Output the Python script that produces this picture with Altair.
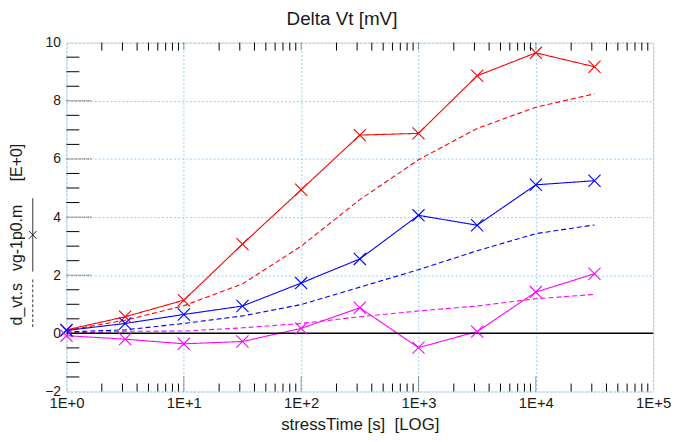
import altair as alt
import pandas as pd

# ---- data ----
stress_time = [1, 3.162, 10, 31.62, 100, 316.2, 1000, 3162, 10000, 31623]
red_meas = [0.12, 0.57, 1.14, 3.07, 4.94, 6.82, 6.88, 8.86, 9.65, 9.17]
red_model = [0.10, 0.45, 0.95, 1.70, 3.00, 4.60, 5.97, 7.05, 7.78, 8.24]
blue_meas = [0.10, 0.34, 0.65, 0.94, 1.73, 2.56, 4.06, 3.72, 5.11, 5.25]
blue_model = [0.05, 0.12, 0.34, 0.60, 0.99, 1.59, 2.19, 2.84, 3.43, 3.73]
mag_meas = [-0.08, -0.20, -0.36, -0.28, 0.17, 0.88, -0.49, 0.06, 1.42, 2.05]
mag_model = [0.00, 0.07, 0.08, 0.19, 0.34, 0.57, 0.77, 0.94, 1.19, 1.34]

x_tick_values = [1, 10, 100, 1000, 10000, 100000]
y_tick_values = [-2, 0, 2, 4, 6, 8, 10]

series_names = ["red", "blue", "magenta"]
series_colors = ["#ff0000", "#0000ff", "#ff00ff"]

chart_title = "Delta Vt [mV]"
x_title = "stressTime [s]\u00a0\u00a0[LOG]"
y_title_parts = ["d_vt.s", "vg-1p0.m", "[E+0]"]

rows = []
for name, meas, model in [("red", red_meas, red_model),
                          ("blue", blue_meas, blue_model),
                          ("magenta", mag_meas, mag_model)]:
    for t, v in zip(stress_time, meas):
        rows.append({"t": t, "v": v, "series": name, "kind": "meas"})
    for t, v in zip(stress_time, model):
        rows.append({"t": t, "v": v, "series": name, "kind": "model"})
df = pd.DataFrame(rows)

# minor / major tick positions (decorations)
x_minor = [m * 10 ** d for d in range(5) for m in range(2, 10)]
x_major = [10, 100, 1000, 10000]
y_minor = [i * 0.5 for i in range(-4, 21) if i % 4 != 0]
y_major = [2, 4, 6, 8]

W, H = 592, 352
FONT = "Liberation Sans"
XMARK = "M-1,-1L1,1M-1,1L1,-1"
TXT = "#1a1a1a"

xscale = alt.Scale(type="log", domain=[1, 100000], nice=False)
yscale = alt.Scale(domain=[-2, 10], nice=False, zero=False)

grid_color = "#8fd0f5"

base = alt.Chart(df)

lines = base.mark_line(strokeWidth=1.1, clip=True).encode(
    x=alt.X("t:Q", scale=xscale,
            axis=alt.Axis(values=x_tick_values, title=x_title,
                          labelExpr="'1E+' + format(round(log(datum.value)/LN10), 'd')",
                          grid=True, gridColor=grid_color, gridDash=[2, 2], gridWidth=1,
                          ticks=False, domain=False, labelPadding=4,
                          labelFontSize=15, labelFont=FONT, labelColor=TXT,
                          labelFlush=False, labelBaseline="top",
                          titleFont=FONT, titleFontSize=17, titleFontWeight="normal",
                          titleColor=TXT, titlePadding=6)),
    y=alt.Y("v:Q", scale=yscale,
            axis=alt.Axis(values=y_tick_values, title="",
                          grid=True, gridColor=grid_color, gridDash=[2, 2], gridWidth=1,
                          ticks=False, domain=False, labelPadding=6,
                          labelFontSize=14, labelFont=FONT, labelColor=TXT,
                          labelFlush=False, labelBaseline="middle")),
    color=alt.Color("series:N", scale=alt.Scale(domain=series_names, range=series_colors), legend=None),
    strokeDash=alt.StrokeDash("kind:N", scale=alt.Scale(domain=["meas", "model"], range=[[1, 0], [5, 3]]), legend=None),
    detail="kind:N",
)

points = base.transform_filter(alt.datum.kind == "meas").mark_point(
    shape=XMARK, filled=False, size=150, strokeWidth=1.1, opacity=1
).encode(
    x=alt.X("t:Q", scale=xscale),
    y=alt.Y("v:Q", scale=yscale),
    color=alt.Color("series:N", scale=alt.Scale(domain=series_names, range=series_colors), legend=None),
)

zero_line = alt.Chart(pd.DataFrame({"z": [0]})).mark_rule(color="black", strokeWidth=1.5).encode(
    y=alt.Y("z:Q", scale=yscale)
)

# tick decorations (inward)
ymin_df = pd.DataFrame({"yv": y_minor})
ymaj_df = pd.DataFrame({"yv": y_major})
xmin_df = pd.DataFrame({"xv": x_minor})
xmaj_df = pd.DataFrame({"xv": x_major})

y_minor_ticks = alt.Chart(ymin_df).mark_rule(color="black", strokeWidth=1).encode(
    y=alt.Y("yv:Q", scale=yscale), x=alt.value(0), x2=alt.value(13))
y_major_ticks = alt.Chart(ymaj_df).mark_rule(color="#333", strokeWidth=1, strokeDash=[1, 1]).encode(
    y=alt.Y("yv:Q", scale=yscale), x=alt.value(0), x2=alt.value(25))
x_minor_bottom = alt.Chart(xmin_df).mark_rule(color="black", strokeWidth=1).encode(
    x=alt.X("xv:Q", scale=xscale), y=alt.value(H), y2=alt.value(H - 8))
x_minor_top = alt.Chart(xmin_df).mark_rule(color="black", strokeWidth=1).encode(
    x=alt.X("xv:Q", scale=xscale), y=alt.value(0), y2=alt.value(8))
x_major_bottom = alt.Chart(xmaj_df).mark_rule(color="#333", strokeWidth=1, strokeDash=[1, 1]).encode(
    x=alt.X("xv:Q", scale=xscale), y=alt.value(H), y2=alt.value(H - 15))
x_major_top = alt.Chart(xmaj_df).mark_rule(color="#333", strokeWidth=1, strokeDash=[1, 1]).encode(
    x=alt.X("xv:Q", scale=xscale), y=alt.value(0), y2=alt.value(8))

# chart title and y axis title with line-style samples (decorations)
dummy = alt.Data(values=[{"a": 1}])
title_mark = alt.Chart(dummy).mark_text(
    text=chart_title, font=FONT, fontSize=19, color=TXT, align="center", baseline="alphabetic"
).encode(x=alt.value(278), y=alt.value(-18))

ytitle_layers = []
for label, ypos in zip(y_title_parts, [264, 197, 121]):
    ytitle_layers.append(
        alt.Chart(dummy).mark_text(text=label, angle=270, font=FONT, fontSize=16,
                                   color=TXT, align="center", baseline="middle")
        .encode(x=alt.value(-50), y=alt.value(ypos)))
sample_dashed = alt.Chart(dummy).mark_rule(color="#333", strokeWidth=1, strokeDash=[3, 2]).encode(
    x=alt.value(-34), y=alt.value(239), y2=alt.value(289))
sample_solid = alt.Chart(dummy).mark_rule(color="#333", strokeWidth=1).encode(
    x=alt.value(-34), y=alt.value(157), y2=alt.value(231))
sample_mark = alt.Chart(dummy).mark_point(shape=XMARK, filled=False, size=60, color="#222",
                                          strokeWidth=1, opacity=1).encode(
    x=alt.value(-34), y=alt.value(194))

chart = alt.layer(
    lines, zero_line, points,
    y_minor_ticks, y_major_ticks, x_minor_bottom, x_minor_top, x_major_bottom, x_major_top,
    title_mark, *ytitle_layers, sample_dashed, sample_solid, sample_mark,
).properties(
    width=W, height=H,
    autosize=alt.AutoSizeParams(type="none"),
    padding={"left": 59, "top": 33, "right": 18, "bottom": 49},
).configure_view(
    stroke="black", strokeWidth=1.5
).configure(background="white")

chart.save("out.html", embed_options={"renderer": "svg", "actions": False})
